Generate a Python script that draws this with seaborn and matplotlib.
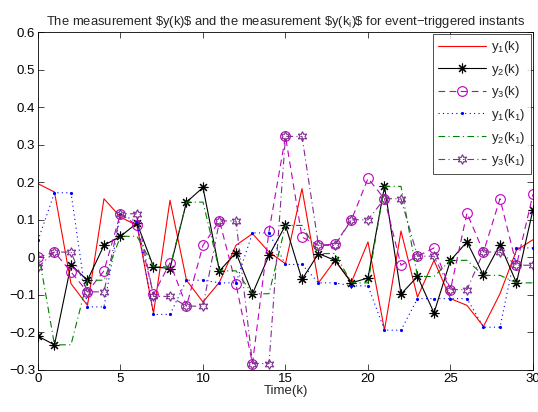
import numpy as np
import pandas as pd
import matplotlib
matplotlib.use("Agg")
import matplotlib.pyplot as plt
import seaborn as sns

k = np.arange(0, 31)

y1_k = [0.196, 0.174, -0.070, -0.128, 0.156, 0.107, 0.085, -0.149, 0.152, -0.061,
        -0.119, -0.066, 0.032, 0.063, 0.014, -0.017, 0.183, -0.068, -0.008, -0.066,
        0.041, -0.194, 0.070, -0.106, -0.008, -0.110, -0.128, -0.184, -0.097, 0.019, 0.047]
y2_k = [-0.210, -0.233, -0.020, -0.061, 0.032, 0.056, 0.091, -0.025, -0.030, 0.147,
        0.186, -0.036, 0.012, -0.097, 0.005, 0.085, -0.059, 0.010, -0.008, -0.068,
        -0.055, 0.189, -0.098, -0.051, -0.148, -0.008, 0.041, -0.048, 0.034, -0.068, 0.127]
y3_k = [0.000, 0.014, -0.039, -0.092, -0.036, 0.116, 0.085, -0.099, -0.015, -0.130,
        0.032, 0.097, -0.072, -0.283, 0.069, 0.322, 0.054, 0.032, 0.035, 0.100,
        0.210, 0.156, -0.021, 0.003, 0.025, -0.086, 0.118, 0.014, 0.156, -0.021, 0.168]
y1_k1 = [0.045, 0.172, 0.172, -0.132, -0.132, 0.116, 0.094, -0.152, -0.152, -0.061,
         -0.061, -0.068, -0.068, 0.065, 0.065, -0.019, -0.019, -0.068, -0.068, -0.076,
         -0.076, -0.194, -0.194, -0.110, -0.110, -0.110, -0.110, -0.186, -0.186, 0.025, 0.025]
y2_k1 = [0.020, -0.233, -0.233, -0.061, -0.061, 0.056, 0.056, -0.024, -0.026, 0.147,
         0.147, -0.036, -0.036, -0.097, -0.097, 0.085, 0.085, 0.010, 0.010, -0.068,
         -0.068, 0.189, 0.189, -0.051, -0.051, -0.008, -0.008, -0.048, -0.048, -0.068, -0.068]
y3_k1 = [-0.026, 0.014, 0.014, -0.092, -0.092, 0.116, 0.116, -0.104, -0.104, -0.130,
         -0.130, 0.097, 0.097, -0.283, -0.283, 0.322, 0.322, 0.032, 0.032, 0.100,
         0.100, 0.156, 0.156, 0.003, 0.003, -0.086, -0.086, 0.014, 0.014, -0.021, -0.021]

x_ticks = [0, 5, 10, 15, 20, 25, 30]
y_ticks = [-0.3, -0.2, -0.1, 0, 0.1, 0.2, 0.3, 0.4, 0.5, 0.6]
y_tick_labels = ["\u22120.3", "\u22120.2", "\u22120.1", "0", "0.1", "0.2", "0.3", "0.4", "0.5", "0.6"]

sns.set_style("white")
plt.rcParams['font.family'] = ['Liberation Sans', 'DejaVu Sans']
plt.rcParams['mathtext.fontset'] = 'custom'
plt.rcParams['mathtext.rm'] = 'Liberation Sans'
plt.rcParams['font.size'] = 9.5

fig = plt.figure(figsize=(5.38, 4.12), dpi=100)
ax = fig.add_axes([0.0706, 0.102, 0.9201, 0.8203])

purple = (0.49, 0.18, 0.56)
sns.lineplot(x=k, y=y1_k, ax=ax, color='red', linewidth=0.8, label=r'y$_\mathregular{1}$(k)')
sns.lineplot(x=k, y=y2_k, ax=ax, color='black', linewidth=0.8, marker=(8, 2, 0),
             markersize=7, markeredgecolor='black', markeredgewidth=0.8,
             label=r'y$_\mathregular{2}$(k)')
sns.lineplot(x=k, y=y3_k, ax=ax, color='m', linewidth=0.8, linestyle=(0, (6, 4)),
             marker='o', markersize=7, markerfacecolor='none', markeredgecolor='m',
             markeredgewidth=0.8, label=r'y$_\mathregular{3}$(k)')
sns.lineplot(x=k, y=y1_k1, ax=ax, color='blue', linewidth=0.8, linestyle=(0, (1, 3)),
             marker='.', markersize=3, markeredgecolor='blue',
             label=r'y$_\mathregular{1}$(k$_\mathregular{1}$)')
sns.lineplot(x=k, y=y2_k1, ax=ax, color='green', linewidth=0.8, linestyle=(0, (6, 3, 1, 3)),
             label=r'y$_\mathregular{2}$(k$_\mathregular{1}$)')
sns.lineplot(x=k, y=y3_k1, ax=ax, color=purple, linewidth=0.8, linestyle=(0, (6, 3, 1, 3)),
             marker=(6, 1, 0), markersize=7, markerfacecolor='none', markeredgecolor=purple,
             markeredgewidth=0.8, label=r'y$_\mathregular{3}$(k$_\mathregular{1}$)')

ax.set_xlim(0, 30)
ax.set_ylim(-0.3, 0.6)
ax.set_xticks(x_ticks)
ax.set_xticklabels([str(t) for t in x_ticks])
ax.set_yticks(y_ticks)
ax.set_yticklabels(y_tick_labels)
ax.tick_params(direction='in', length=4, width=0.5, top=True, right=True,
               bottom=True, left=True, labelsize=9.5, pad=2, colors='black')
for s in ax.spines.values():
    s.set_color('black')
    s.set_linewidth(0.6)

ax.set_xlabel('Time(k)', fontsize=9.5, labelpad=0)
ax.set_ylabel('')
ax.set_title(r'The measurement \$y(k)\$ and the measurement \$y(k$_\mathregular{i}$)\$ for event' + '\u2212triggered instants',
             fontsize=9.4, pad=5)

leg = ax.legend(loc='upper right', fontsize=9.5, frameon=True, fancybox=False,
                edgecolor='black', handlelength=3.6, borderaxespad=0.15,
                labelspacing=0.5, borderpad=0.4, handletextpad=0.4)
leg.get_frame().set_linewidth(0.6)

fig.savefig('out.png', dpi=100)
